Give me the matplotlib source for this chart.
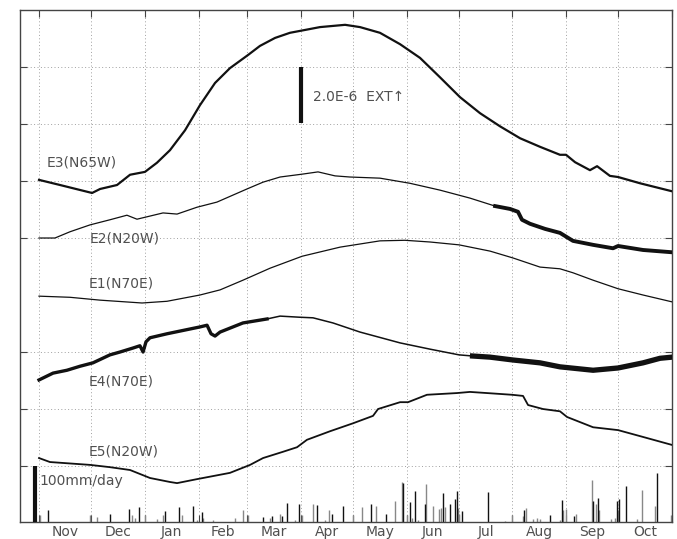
import numpy as np
import matplotlib
matplotlib.use('Agg')
from matplotlib import pyplot as plt

# x in days from Nov 1, y in scale units (1 unit = 2.0E-6 strain)
month_edges = [0, 30, 61, 92, 120, 151, 181, 212, 242, 273, 304, 334, 365]
month_names = ['Nov', 'Dec', 'Jan', 'Feb', 'Mar', 'Apr', 'May', 'Jun', 'Jul', 'Aug', 'Sep', 'Oct']

e3_day = [0, 12.1, 30.6, 35.2, 45.0, 52.5, 61.1, 68.0, 75.5, 84.2, 92.8, 101.5, 110.1, 120.5, 127.4,
          136.1, 144.7, 153.4, 162.0, 176.5, 185.1, 196.6, 208.2, 219.7, 231.2, 242.8, 254.3, 265.8,
          277.4, 288.9, 300.4, 303.9, 309.1, 317.7, 321.8, 329.2, 333.9, 346.6, 365]
e3_val = [5.02, 4.93, 4.79, 4.86, 4.93, 5.11, 5.16, 5.32, 5.54, 5.89, 6.33, 6.72, 6.98, 7.21, 7.37,
          7.51, 7.60, 7.65, 7.70, 7.74, 7.70, 7.60, 7.40, 7.16, 6.82, 6.47, 6.19, 5.96,
          5.75, 5.60, 5.46, 5.46, 5.33, 5.19, 5.26, 5.09, 5.07, 4.96, 4.82]

e2_day = [0, 9.2, 17.9, 29.4, 40.9, 50.7, 56.5, 71.5, 79.6, 91.1, 102.6, 119.9, 129.2, 139.0,
          151.7, 160.9, 170.7, 179.3, 196.6, 213.9, 231.2, 248.5, 263.0]
e2_val = [4.00, 4.00, 4.11, 4.23, 4.32, 4.40, 4.33, 4.44, 4.42, 4.54, 4.63, 4.86, 4.98, 5.07,
          5.12, 5.16, 5.09, 5.07, 5.05, 4.96, 4.84, 4.70, 4.56]
e2_tail_day = [263.0, 271.6, 276.2, 278.5, 283.1, 291.8, 300.4, 307.9, 319.5, 331.0, 333.9, 348.3, 365]
e2_tail_val = [4.56, 4.51, 4.46, 4.32, 4.25, 4.16, 4.09, 3.95, 3.88, 3.82, 3.86, 3.79, 3.75]

e1_day = [0, 17.9, 35.2, 59.4, 73.8, 92.8, 104.4, 117.6, 133.2, 151.7, 173.6, 196.6, 211.0,
          225.5, 242.2, 260.1, 273.3, 288.9, 300.4, 307.9, 319.5, 333.9, 348.3, 365]
e1_val = [2.98, 2.96, 2.91, 2.86, 2.89, 3.00, 3.09, 3.26, 3.47, 3.68, 3.84, 3.95, 3.96,
          3.93, 3.88, 3.77, 3.65, 3.49, 3.46, 3.39, 3.26, 3.11, 3.00, 2.88]

e4_day = [0, 8.1, 16.1, 23.6, 31.1, 40.9, 46.7, 54.2, 58.2, 60.0, 61.7, 64.0, 73.8, 92.8, 96.9,
          99.2, 101.5, 104.4, 117.6, 131.5]
e4_val = [1.51, 1.63, 1.68, 1.75, 1.81, 1.95, 2.00, 2.07, 2.11, 2.00, 2.18, 2.25, 2.32, 2.44, 2.47,
          2.32, 2.28, 2.35, 2.51, 2.58]
e4_mid_day = [131.5, 139.0, 150.5, 158.0, 169.5, 185.1, 208.2, 225.5, 242.2, 250.0]
e4_mid_val = [2.58, 2.63, 2.61, 2.60, 2.51, 2.35, 2.16, 2.05, 1.95, 1.93]
e4_tail_day = [250.0, 260.1, 273.3, 288.9, 300.4, 319.5, 333.9, 348.3, 358.1, 365]
e4_tail_val = [1.93, 1.91, 1.86, 1.81, 1.74, 1.68, 1.72, 1.81, 1.89, 1.91]

e5_day = [0, 6.3, 29.4, 40.9, 52.5, 64.0, 75.5, 79.6, 91.1, 110.1, 121.7, 129.2, 140.7, 148.8,
          154.5, 167.8, 181.1, 192.6, 195.5, 208.2, 212.8, 223.7, 241.0, 248.5, 258.3, 272.7,
          279.1, 282.0, 290.6, 300.4, 304.5, 319.5, 333.9, 348.3, 365]
e5_val = [0.14, 0.07, 0.02, -0.02, -0.07, -0.21, -0.28, -0.30, -0.23, -0.12, 0.02, 0.14, 0.25, 0.33,
          0.46, 0.61, 0.75, 0.88, 1.00, 1.12, 1.12, 1.25, 1.28, 1.30, 1.28, 1.25,
          1.23, 1.07, 1.00, 0.96, 0.86, 0.68, 0.63, 0.51, 0.37]

# daily rainfall (mm), two gauges
rain_a_day = [5.2, 40.9, 51.9, 57.7, 72.7, 80.7, 88.8, 94.0, 129.2, 134.4, 140.1, 143.0, 149.9,
              160.3, 169.0, 175.3, 191.4, 200.1, 209.9, 213.9, 216.8, 222.6, 233.0, 237.0, 239.9,
              241.0, 243.9, 258.9, 279.7, 294.7, 301.6, 308.5, 319.5, 322.3, 333.3, 334.4, 338.5, 356.4]
rain_a_mm = [21, 14, 23, 26, 19, 26, 28, 18, 9, 11, 10, 33, 32,
             30, 14, 28, 32, 14, 68, 35, 54, 32, 51, 32, 40,
             54, 19, 53, 21, 12, 39, 11, 37, 42, 37, 40, 63, 86]
rain_b_day = [0.6, 29.4, 33.4, 53.6, 55.4, 61.1, 68.0, 71.5, 82.5, 91.1, 94.6, 100.3, 113.0, 117.6,
              120.5, 133.2, 139.0, 147.6, 151.7, 158.0, 164.9, 167.2, 181.1, 186.3, 194.3, 205.3,
              209.3, 212.2, 215.1, 218.5, 223.2, 227.2, 230.7, 231.8, 234.1, 241.6, 242.2, 268.7,
              272.7, 279.1, 280.8, 284.9, 287.2, 288.9, 300.4, 302.2, 303.9, 309.7, 318.9, 321.2,
              322.9, 329.8, 332.1, 333.9, 344.8, 347.7, 355.2, 364.3]
rain_b_mm = [12, 12, 9, 12, 7, 12, 5, 12, 12, 4, 7, 4, 7, 21,
             12, 7, 14, 4, 12, 32, 4, 21, 12, 26, 28, 37,
             70, 12, 7, 4, 67, 28, 23, 25, 26, 25, 14, 2,
             12, 11, 25, 5, 7, 5, 4, 21, 23, 14, 74, 32,
             21, 5, 7, 21, 5, 56, 28, 12]

y_bottom = -0.982
ink = '#111111'
txt = '#505050'
grid_kw = dict(color='#a0a0a0', lw=0.7, ls=(0, (1, 2.5)), zorder=1)

fig = plt.figure(figsize=(6.77, 5.39), dpi=100)
ax = fig.add_axes([20 / 677, 17 / 539, 652 / 677, 512 / 539])
ax.set_xlim(-10.96, 365)
ax.set_ylim(y_bottom, 8.0)

# grid
for yv in [0, 1, 2, 4, 5, 6, 7]:
    ax.axhline(yv, **grid_kw)
for xv in month_edges[:-1]:
    ax.axvline(xv, **grid_kw)

# rainfall
ax.vlines(rain_b_day, y_bottom, y_bottom + np.array(rain_b_mm) / 100, color='#888888', lw=1.0, zorder=2)
ax.vlines(rain_a_day, y_bottom, y_bottom + np.array(rain_a_mm) / 100, color=ink, lw=1.0, zorder=2)

# strain curves
ax.plot(e3_day, e3_val, color=ink, lw=1.6, zorder=3)
ax.plot(e2_day, e2_val, color=ink, lw=0.9, zorder=3)
ax.plot(e2_tail_day, e2_tail_val, color=ink, lw=2.8, zorder=3)
ax.plot(e1_day, e1_val, color=ink, lw=0.9, zorder=3)
ax.plot(e4_day, e4_val, color=ink, lw=2.4, zorder=3)
ax.plot(e4_mid_day, e4_mid_val, color=ink, lw=1.1, zorder=3)
ax.plot(e4_tail_day, e4_tail_val, color=ink, lw=3.8, zorder=3)
ax.plot(e5_day, e5_val, color=ink, lw=1.3, zorder=3)

# labels
lab = dict(fontsize=10, color=txt, va='center', ha='left')
ax.text(4.6, 5.32, 'E3(N65W)', **lab)
ax.text(29.4, 4.0, 'E2(N20W)', **lab)
ax.text(28.8, 3.21, 'E1(N70E)', **lab)
ax.text(28.8, 1.49, 'E4(N70E)', **lab)
ax.text(28.8, 0.25, 'E5(N20W)', **lab)

# scale bars
ax.vlines(151.1, 6.02, 7.0, color=ink, lw=3, zorder=4)
ax.text(158, 6.47, '2.0E-6  EXT\u2191', **lab)
ax.vlines(-2.3, y_bottom, 0, color=ink, lw=3, zorder=4)
ax.text(0.3, -0.26, '100mm/day', **lab)

# axes
ax.set_xticks(month_edges)
ax.set_xticklabels([])
ax.set_xticks([(a + b) / 2 for a, b in zip(month_edges[:-1], month_edges[1:])], minor=True)
ax.set_xticklabels(month_names, minor=True)
ax.tick_params(axis='x', which='minor', length=0, pad=2, labelsize=10, labelcolor=txt)
ax.tick_params(axis='x', which='major', direction='in', length=5, top=True, color='#444444')
ax.set_yticks([0, 1, 2, 4, 5, 6, 7])
ax.set_yticklabels([])
ax.tick_params(axis='y', direction='in', length=5, right=True, color='#444444')
for s in ax.spines.values():
    s.set_color('#444444')
    s.set_linewidth(1.0)

fig.savefig('out.png', dpi=100)
